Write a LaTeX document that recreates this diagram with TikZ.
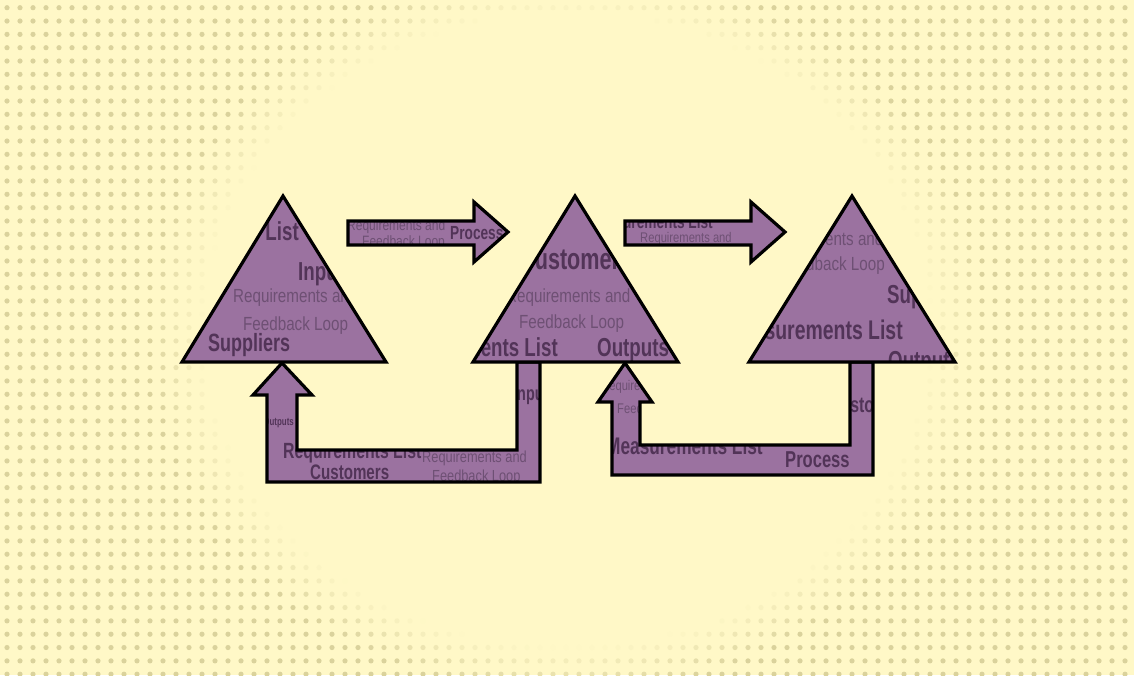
\documentclass[tikz,border=0pt]{standalone}
\usepackage{fontspec}
\setmainfont{Liberation Sans}
\newfontfamily\fb[FakeStretch=0.72]{Liberation Sans}
\newfontfamily\fr[FakeStretch=0.8]{Liberation Sans}
\definecolor{bgc}{RGB}{255,248,199}
\definecolor{dotc}{RGB}{218,210,156}
\definecolor{purp}{RGB}{155,114,160}
\definecolor{txb}{RGB}{82,52,88}
\definecolor{txr}{RGB}{110,80,116}
\tikzset{
  tb/.style={font=\fb\bfseries\fontsize{#1}{#1}\selectfont, text=txb, inner sep=0pt, anchor=base west},
  tr/.style={font=\fr\fontsize{#1}{#1}\selectfont, text=txr, inner sep=0pt, anchor=base west},
  outline/.style={draw=black, line width=3.2pt, line join=miter, miter limit=10},
  shapefill/.style={fill=purp},
}
\def\pTA{(182,362) -- (283,196) -- (386,362) -- cycle}
\def\pTB{(473,362) -- (575,196) -- (678,362) -- cycle}
\def\pTC{(749,362) -- (852,196) -- (955,362) -- cycle}
\def\pAA{(348,221) -- (474,221) -- (474,202) -- (508,232) -- (474,262) -- (474,245) -- (348,245) -- cycle}
\def\pAB{(625,221) -- (751,221) -- (751,202) -- (785,232) -- (751,262) -- (751,245) -- (625,245) -- cycle}
\def\pLA{(517,362) -- (517,450) -- (297,450) -- (297,395) -- (312,395) -- (282,363) -- (253,395) -- (267,395) -- (267,482) -- (540,482) -- (540,362) -- cycle}
\def\pLB{(850,362) -- (850,445) -- (640,445) -- (640,402) -- (652,402) -- (625,363) -- (598,402) -- (612,402) -- (612,475) -- (873,475) -- (873,362) -- cycle}
\begin{document}
\begin{tikzpicture}[x=1pt,y=-1pt]
\useasboundingbox (0,0) rectangle (1134,675);
\fill[bgc] (0,0) rectangle (1134,675);
% dotted vignette
\foreach \i in {0,...,86}{
  \foreach \j in {0,...,50}{
    \pgfmathsetmacro\px{7+13*\i}
    \pgfmathsetmacro\py{7.7+13.33*\j}
    \pgfmathsetmacro\dd{sqrt(((\px-567)/390)^2+((\py-330)/340)^2)}
    \pgfmathsetmacro\tt{min(100,max(0,(\dd-0.93)*700))}
    \ifdim\tt pt>1pt
      \fill[dotc!\tt!bgc] (\px,\py) circle (2.6);
    \fi
  }
}
% arrow 1
\begin{scope}
  \clip \pAA;
  \fill[shapefill] \pAA;
  \node[tr=15] (a1t1) at (347,230) {Requirements and};
  \node[tr=15] (a1t2) at (362,246) {Feedback Loop};
  \node[tb=19] (a1t3) at (450,239) {Process};
\end{scope}
\draw[outline] \pAA;
% arrow 2
\begin{scope}
  \clip \pAB;
  \fill[shapefill] \pAB;
  \node[tb=19, anchor=base east] (a2t1) at (713,228) {Measurements List};
  \node[tr=14] (a2t2) at (640,242) {Requirements and};
\end{scope}
\draw[outline] \pAB;
% loop 1
\begin{scope}
  \clip \pLA;
  \fill[shapefill] \pLA;
  \node[tb=11, anchor=base east] (l1t1) at (294,425) {Outputs};
  \node[tb=22] (l1t2) at (283,458) {Requirements List};
  \node[tb=21] (l1t3) at (310,479) {Customers};
  \node[tr=16] (l1t4) at (422,462) {Requirements and};
  \node[tr=16] (l1t5) at (432,481) {Feedback Loop};
  \node[tb=20] (l1t6) at (513,400) {Inputs};
\end{scope}
\draw[outline] \pLA;
% loop 2
\begin{scope}
  \clip \pLB;
  \fill[shapefill] \pLB;
  \node[tr=14] (l2t1) at (601,390) {Requirements and};
  \node[tr=14] (l2t2) at (617,413) {Feedback Loop};
  \node[tb=24] (l2t3) at (606,454) {Measurements List};
  \node[tb=23] (l2t4) at (785,467) {Process};
  \node[tb=22] (l2t5) at (829,412) {Customers};
\end{scope}
\draw[outline] \pLB;
% triangle 1
\begin{scope}
  \clip \pTA;
  \fill[shapefill] \pTA;
  \node[tb=26, anchor=base east] (t1a) at (299,240) {Measurements List};
  \node[tb=26] (t1b) at (298,280) {Inputs};
  \node[tr=19] (t1c) at (233,302) {Requirements and};
  \node[tr=19] (t1d) at (243,330) {Feedback Loop};
  \node[tb=25] (t1e) at (208,351) {Suppliers};
\end{scope}
\draw[outline] \pTA;
% triangle 2
\begin{scope}
  \clip \pTB;
  \fill[shapefill] \pTB;
  \node[tb=30] (t2a) at (519,269) {Customers};
  \node[tr=19] (t2b) at (506,302) {Requirements and};
  \node[tr=19] (t2c) at (519,328) {Feedback Loop};
  \node[tb=26, anchor=base east] (t2d) at (558,356) {Measurements List};
  \node[tb=26] (t2e) at (597,356) {Outputs};
\end{scope}
\draw[outline] \pTB;
% triangle 3
\begin{scope}
  \clip \pTC;
  \fill[shapefill] \pTC;
  \node[tr=19] (t3a) at (759,245) {Requirements and};
  \node[tr=19, anchor=base east] (t3b) at (885,270) {Feedback Loop};
  \node[tb=26] (t3c) at (887,303) {Suppliers};
  \node[tb=27, anchor=base east] (t3d) at (903,339) {Measurements List};
  \node[tb=26] (t3e) at (888,369) {Outputs};
\end{scope}
\draw[outline] \pTC;
\end{tikzpicture}
\end{document}
